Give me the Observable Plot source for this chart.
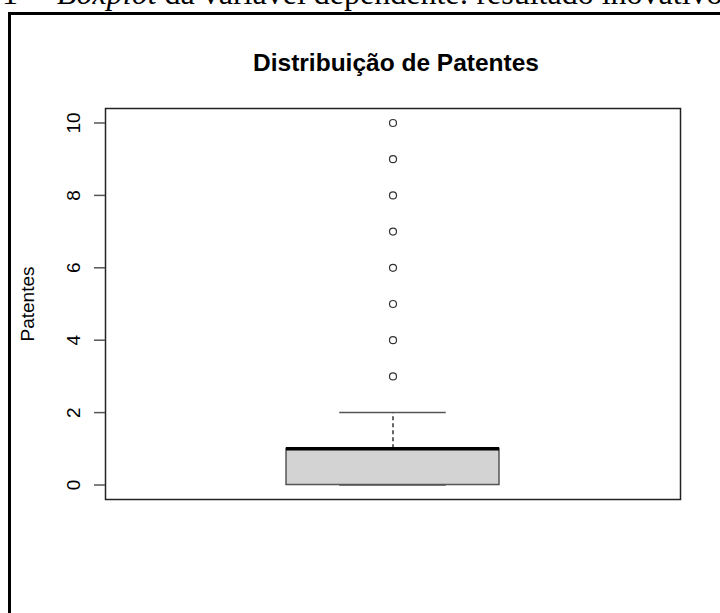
<!DOCTYPE html>
<html><head><meta charset="utf-8">
<script src="https://cdn.jsdelivr.net/npm/d3@7"></script>
<script src="https://cdn.jsdelivr.net/npm/@observablehq/plot@0.6"></script>
<style>
html,body{margin:0;padding:0;background:#fff;}
#wrap{position:relative;width:720px;height:613px;overflow:hidden;background:#fff;}
#frame{position:absolute;left:8px;top:12px;width:740px;height:700px;border-left:3px solid #000;border-top:3px solid #000;}
.cap{position:absolute;top:-23px;font-family:'Liberation Serif','Times New Roman',serif;font-size:32px;line-height:32px;white-space:nowrap;color:#000;}
#chart{position:absolute;left:0;top:0;}
</style></head>
<body><div id="wrap">
<div class="cap" style="right:678px;text-align:right">Gráfico 1 –</div>
<div class="cap" style="left:57px"><i>Boxplot</i> da variável dependente: resultado inovativo</div>
<div id="frame"></div>
<div id="chart"></div>
</div>
<script>
const title = "Distribuição de Patentes";
const yLabel = "Patentes";
const groups = [1];
const q1 = [0];
const medians = [1];
const q3 = [1];
const whiskerLow = [0];
const whiskerHigh = [2];
const outliers = [3, 4, 5, 6, 7, 8, 9, 10];
const yTicks = [0, 2, 4, 6, 8, 10];

const boxes = groups.map((g, i) => ({g, q1: q1[i], med: medians[i], q3: q3[i], lo: whiskerLow[i], hi: whiskerHigh[i]}));
const outs = outliers.map(v => ({g: groups[0], v}));
const BW = 0.2, SW = 0.1;

const chart = Plot.plot({
  width: 720, height: 613,
  marginLeft: 105, marginRight: 40, marginTop: 108, marginBottom: 114,
  style: {fontFamily: "'Liberation Sans', Arial, sans-serif", fontSize: "19px", color: "#000", background: "transparent"},
  x: {domain: [0.46, 1.54], axis: null},
  y: {domain: [-0.4, 10.4], axis: null},
  marks: [
    Plot.rect(boxes, {x1: d => d.g - BW, x2: d => d.g + BW, y1: "q1", y2: "q3", fill: "#d3d3d3", stroke: "#555", strokeWidth: 1.5}),
    Plot.ruleX(boxes, {x: "g", y1: "q3", y2: "hi", stroke: "#333", strokeWidth: 1.5, strokeDasharray: "4,3"}),
    Plot.ruleX(boxes, {x: "g", y1: "lo", y2: "q1", stroke: "#333", strokeWidth: 1.5, strokeDasharray: "4,3"}),
    Plot.ruleY(boxes, {y: "hi", x1: d => d.g - SW, x2: d => d.g + SW, stroke: "#555", strokeWidth: 1.5}),
    Plot.ruleY(boxes, {y: "lo", x1: d => d.g - SW, x2: d => d.g + SW, stroke: "#555", strokeWidth: 1.5}),
    Plot.ruleY(boxes, {y: "med", x1: d => d.g - BW, x2: d => d.g + BW, stroke: "#000", strokeWidth: 3.5}),
    Plot.dot(outs, {x: "g", y: "v", r: 3.5, stroke: "#333", strokeWidth: 1.2, fill: "none"}),
    Plot.frame({stroke: "#222", strokeWidth: 1.5}),
    Plot.axisY({ticks: yTicks, tickFormat: d => String(d), tickSize: 11, tickRotate: -90, tickPadding: 15, stroke: "#555", strokeWidth: 1.5, fill: "#000", fontSize: 19, label: null}),
    Plot.text([title], {frameAnchor: "top", dx: 3, dy: -38, lineAnchor: "bottom", textAnchor: "middle", fontWeight: "bold", fontSize: 24.5, fill: "#000"}),
    Plot.text([yLabel], {frameAnchor: "left", dx: -72, rotate: -90, lineAnchor: "bottom", textAnchor: "middle", fontSize: 19, fill: "#000"})
  ]
});
document.getElementById("chart").appendChild(chart);
</script>
</body></html>
